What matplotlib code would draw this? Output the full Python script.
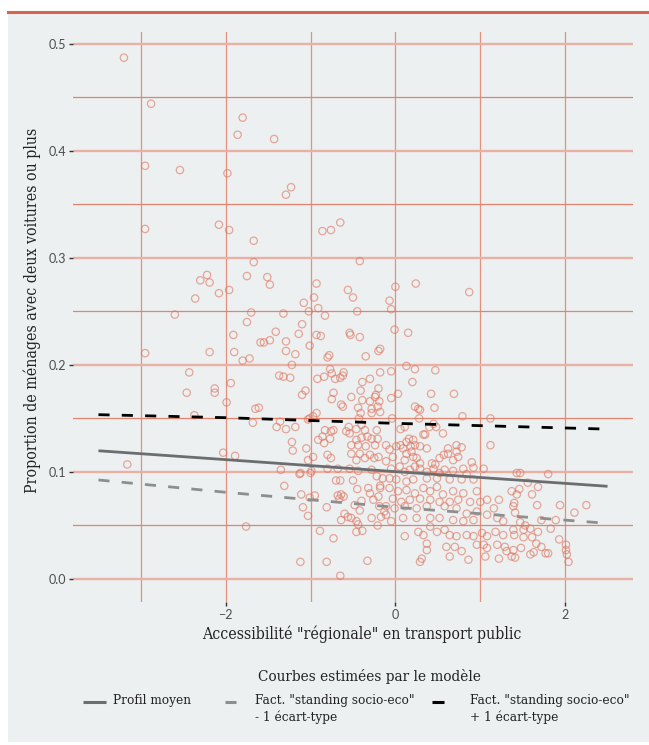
import numpy as np
import matplotlib
matplotlib.use("Agg")
import matplotlib.pyplot as plt
from matplotlib.lines import Line2D
from matplotlib.patches import Rectangle

obs = [
    (-3.20, 0.487), (-2.88, 0.444), (-1.80, 0.431), (-1.86, 0.415), (-1.43, 0.411),
    (-2.95, 0.386), (-2.54, 0.382), (-1.98, 0.379), (-1.23, 0.366), (-1.29, 0.359),
    (-2.95, 0.327), (-2.08, 0.331), (-1.96, 0.326), (-1.67, 0.316), (-0.65, 0.333),
    (-0.86, 0.325), (-0.76, 0.326), (-1.67, 0.296), (-0.42, 0.297), (-2.22, 0.284),
    (-2.30, 0.279), (-2.19, 0.277), (-1.75, 0.283), (-1.51, 0.282), (-1.48, 0.275),
    (-0.93, 0.276), (-1.96, 0.270), (-2.08, 0.267), (-2.36, 0.262), (-0.56, 0.270),
    (-0.50, 0.263), (-0.96, 0.263), (-1.08, 0.258), (0.00, 0.273), (0.24, 0.276),
    (0.87, 0.268), (-0.07, 0.260), (-0.05, 0.252), (-0.91, 0.253), (-1.02, 0.250),
    (-0.83, 0.246), (-0.45, 0.250), (-2.60, 0.247), (-1.70, 0.249), (-1.32, 0.248),
    (-1.75, 0.240), (-1.10, 0.238),
    (-1.91, 0.228), (-2.95, 0.211), (-2.19, 0.212), (-1.90, 0.212), (-1.80, 0.204),
    (-1.72, 0.206), (-1.59, 0.221), (-2.43, 0.193), (-1.94, 0.183), (-2.13, 0.178),
    (-2.13, 0.174), (-2.46, 0.174), (-1.99, 0.165), (-1.65, 0.159), (-1.61, 0.160),
    (-2.37, 0.153), (-1.68, 0.146), (-2.03, 0.118), (-1.89, 0.115), (-3.16, 0.107),
    (-1.76, 0.049),
    (-1.41, 0.231), (-1.14, 0.229), (-0.93, 0.228), (-0.88, 0.227), (-0.53, 0.228),
    (-0.54, 0.230), (-0.42, 0.226), (-1.55, 0.221), (-1.48, 0.223), (-1.29, 0.222),
    (-1.01, 0.218), (-1.29, 0.213), (-1.18, 0.210), (-0.78, 0.209), (-0.80, 0.207),
    (-0.35, 0.208), (-0.20, 0.213), (-0.18, 0.215), (-1.22, 0.200), (-1.37, 0.190),
    (-1.32, 0.189), (-1.24, 0.188), (-0.92, 0.187), (-0.84, 0.189), (-0.77, 0.196),
    (-0.75, 0.192), (-0.61, 0.193), (-0.71, 0.187), (-0.65, 0.188), (-0.62, 0.190),
    (-0.39, 0.184), (-0.30, 0.187), (-0.18, 0.193), (-1.06, 0.176), (-1.10, 0.172),
    (-0.73, 0.174), (-0.75, 0.168), (-0.52, 0.170), (-0.64, 0.163), (-0.62, 0.161),
    (-0.41, 0.176), (-0.20, 0.178), (-0.23, 0.172), (-0.24, 0.170), (-0.39, 0.167),
    (-0.30, 0.166), (-0.44, 0.160), (-0.41, 0.155), (-0.28, 0.159), (-0.21, 0.161),
    (-0.19, 0.166), (-0.18, 0.156), (-0.28, 0.155), (-0.43, 0.150),
    (-0.93, 0.155), (-0.97, 0.152), (-1.36, 0.147), (-1.40, 0.142), (-1.29, 0.140),
    (-1.18, 0.142), (-1.03, 0.149), (-1.01, 0.150), (-0.83, 0.139), (-0.76, 0.138),
    (-0.73, 0.139), (-0.86, 0.133), (-0.84, 0.127), (-0.91, 0.130), (-0.77, 0.131),
    (-1.22, 0.128), (-1.21, 0.120), (-0.55, 0.142), (-0.58, 0.138), (-0.54, 0.136),
    (-0.46, 0.140), (-0.40, 0.144), (-0.36, 0.139), (-0.46, 0.130), (-0.40, 0.132),
    (-0.33, 0.133), (-0.28, 0.131), (-0.22, 0.139), (-0.21, 0.131), (-0.24, 0.125),
    (-0.35, 0.124), (-0.44, 0.125), (-0.52, 0.125), (-0.52, 0.117), (-0.42, 0.117),
    (-0.30, 0.116), (-0.20, 0.114), (-0.46, 0.111), (-0.36, 0.113), (-0.25, 0.113),
    (-0.76, 0.113), (-0.80, 0.116), (-1.05, 0.122), (-0.97, 0.114), (-1.03, 0.111),
    (-0.01, 0.233), (0.15, 0.230), (-0.05, 0.194), (0.13, 0.199), (0.23, 0.196),
    (0.47, 0.195), (0.20, 0.184), (0.03, 0.173), (-0.05, 0.169), (0.42, 0.173),
    (0.69, 0.173), (0.23, 0.161), (0.27, 0.159), (0.29, 0.158), (0.46, 0.160),
    (0.28, 0.150), (-0.04, 0.150), (0.79, 0.152), (1.12, 0.150), (0.06, 0.140),
    (0.11, 0.142), (0.40, 0.142), (0.45, 0.145), (0.48, 0.142), (0.56, 0.136),
    (0.33, 0.135), (0.35, 0.135), (1.12, 0.125), (0.16, 0.131), (0.21, 0.130),
    (0.13, 0.128), (0.06, 0.125), (0.01, 0.124), (0.09, 0.122), (0.18, 0.124),
    (0.23, 0.125), (0.29, 0.124), (0.37, 0.122), (0.19, 0.119), (0.13, 0.117),
    (0.21, 0.114), (-0.03, 0.114), (-0.07, 0.121), (-0.11, 0.125), (0.11, 0.111),
    (0.25, 0.113), (0.29, 0.108), (0.52, 0.113), (0.57, 0.116), (0.62, 0.122),
    (0.62, 0.117), (0.72, 0.125), (0.78, 0.123), (0.72, 0.119), (0.74, 0.114),
    (0.68, 0.111), (0.90, 0.109), (0.43, 0.108), (0.47, 0.107), (-0.11, 0.110),
    (-1.35, 0.102), (-1.13, 0.098), (-1.12, 0.099), (-1.00, 0.099), (-0.99, 0.101),
    (-0.80, 0.103), (-0.68, 0.103), (-0.54, 0.103), (-0.44, 0.101), (-0.70, 0.092),
    (-0.65, 0.092), (-0.50, 0.092), (-1.31, 0.087), (-1.11, 0.079), (-1.01, 0.076),
    (-0.95, 0.078), (-1.09, 0.067), (-1.03, 0.059), (-0.81, 0.067), (-0.68, 0.078),
    (-0.64, 0.079), (-0.61, 0.077), (-0.66, 0.075), (-0.45, 0.084), (-0.40, 0.073),
    (-0.32, 0.085), (-0.30, 0.080), (-0.26, 0.074), (-0.20, 0.077), (-0.18, 0.085),
    (-0.15, 0.094), (-0.22, 0.096), (-0.28, 0.102), (-0.18, 0.087), (-0.48, 0.069),
    (-0.42, 0.064), (-0.60, 0.061), (-0.56, 0.058), (-0.64, 0.055), (-0.52, 0.057),
    (-0.46, 0.054), (-0.44, 0.051), (-0.28, 0.057), (-0.21, 0.050), (-0.17, 0.058),
    (-0.19, 0.068), (-0.13, 0.063), (-0.46, 0.044), (-0.39, 0.045), (-0.89, 0.045),
    (-0.73, 0.038), (-1.12, 0.016), (-0.81, 0.016), (-0.33, 0.017), (-0.65, 0.003),
    (-0.05, 0.103), (0.05, 0.105), (0.11, 0.100), (0.17, 0.102), (0.23, 0.105),
    (0.29, 0.103), (0.37, 0.100), (0.45, 0.103), (0.52, 0.099), (0.58, 0.102),
    (0.68, 0.101), (0.80, 0.103), (0.92, 0.104), (1.04, 0.103), (0.84, 0.098),
    (0.78, 0.093), (0.92, 0.093), (0.64, 0.093), (0.49, 0.094), (0.37, 0.094),
    (0.21, 0.093), (0.13, 0.091), (0.01, 0.093), (-0.07, 0.094),
    (-0.07, 0.085), (0.03, 0.082), (0.13, 0.083), (0.23, 0.080), (0.33, 0.085),
    (0.41, 0.082), (0.49, 0.086), (0.56, 0.079), (0.68, 0.082), (0.80, 0.080),
    (0.96, 0.082), (1.08, 0.074), (1.22, 0.074), (1.16, 0.066), (1.00, 0.072),
    (0.88, 0.072), (0.74, 0.074), (0.64, 0.072), (0.52, 0.072), (0.41, 0.074),
    (0.29, 0.075), (0.17, 0.074), (0.07, 0.072), (-0.03, 0.075), (-0.11, 0.068),
    (-0.01, 0.066), (0.11, 0.068), (0.25, 0.066), (0.37, 0.068), (0.58, 0.068),
    (0.72, 0.066), (0.84, 0.061), (0.96, 0.063), (1.08, 0.060), (1.20, 0.057),
    (1.27, 0.054), (0.09, 0.057), (0.25, 0.057), (0.41, 0.057), (0.52, 0.057),
    (0.68, 0.055), (0.80, 0.054), (0.92, 0.055), (-0.05, 0.054), (-0.11, 0.060),
    (0.11, 0.040), (0.27, 0.044), (0.33, 0.041), (0.41, 0.049), (0.49, 0.044),
    (0.58, 0.046), (0.64, 0.041), (0.72, 0.040), (0.84, 0.041), (0.92, 0.040),
    (1.02, 0.043), (1.08, 0.040), (1.18, 0.044), (1.27, 0.041), (1.04, 0.032),
    (1.08, 0.029), (1.20, 0.032), (1.29, 0.030), (0.96, 0.032), (0.37, 0.033),
    (0.37, 0.027), (0.60, 0.030), (0.70, 0.030), (0.78, 0.026), (0.64, 0.021),
    (0.86, 0.018), (1.06, 0.021), (1.22, 0.019), (1.31, 0.026), (0.29, 0.016),
    (0.31, 0.019),
    (1.43, 0.099), (1.47, 0.099), (1.80, 0.098), (1.56, 0.090), (1.68, 0.086),
    (1.46, 0.084), (1.37, 0.082), (1.43, 0.079), (1.61, 0.079), (1.40, 0.071),
    (1.39, 0.068), (1.41, 0.062), (1.67, 0.069), (1.94, 0.069), (2.25, 0.069),
    (2.11, 0.062), (1.72, 0.055), (1.89, 0.055), (1.47, 0.053), (1.53, 0.050),
    (1.59, 0.047), (1.51, 0.046), (1.68, 0.044), (1.83, 0.047), (1.39, 0.046),
    (1.40, 0.041), (1.51, 0.039), (1.61, 0.039), (1.66, 0.033), (1.72, 0.030),
    (1.93, 0.037), (2.01, 0.032), (2.01, 0.027), (2.02, 0.023), (2.04, 0.016),
    (1.48, 0.029), (1.39, 0.027), (1.41, 0.020), (1.59, 0.023), (1.63, 0.025),
    (1.77, 0.024), (1.80, 0.024), (1.37, 0.021),
]
obs_x = np.array([p[0] for p in obs])
obs_y = np.array([p[1] for p in obs])

# model curves
curve_x = [-3.5, -2.0, 0.0, 2.5]
mean_y = [0.1198, 0.1115, 0.1003, 0.0866]
low_y = [0.0925, 0.0810, 0.0670, 0.0520]
high_y = [0.1535, 0.1507, 0.1454, 0.1400]

legend_title = "Courbes estimées par le modèle"
legend_labels = [
    "Profil moyen",
    'Fact. "standing socio-eco"\n- 1 écart-type',
    'Fact. "standing socio-eco"\n+ 1 écart-type',
]
x_label = 'Accessibilité "régionale" en transport public'
y_label = "Proportion de ménages avec deux voitures ou plus"

BG = "#ecf0f1"
RED = "#d9634f"
W, H = 649, 745
SERIF = dict(family="DejaVu Serif", stretch="condensed", color="#222222")


def fx(px):
    return px / W


def fy(py):
    return 1 - py / H


fig = plt.figure(figsize=(W / 100, H / 100), dpi=100)
fig.patch.set_facecolor("white")
fig.add_artist(Rectangle((fx(8), fy(742)), 1, fy(12) - fy(742),
                         transform=fig.transFigure, facecolor=BG,
                         edgecolor="none", zorder=0))
fig.add_artist(Line2D([fx(8), 1], [fy(12), fy(12)], color=RED, lw=2.2,
                      transform=fig.transFigure))

ax = fig.add_axes([fx(73), fy(602), fx(633) - fx(73), fy(32) - fy(602)])
ax.set_facecolor(BG)
for s in ax.spines.values():
    s.set_visible(False)

ax.set_xlim(-3.8, 2.8)
ax.set_ylim(-0.0215, 0.511)
ax.set_xticks([-2, 0, 2])
ax.set_xticks([-3, -1, 1], minor=True)
ax.set_yticks(np.arange(0, 0.51, 0.1))
ax.set_yticks(np.arange(0.05, 0.5, 0.1), minor=True)
ax.set_yticklabels([f"{v:.1f}" for v in np.arange(0, 0.51, 0.1)])
ax.grid(which="major", axis="y", color="#e9b1a5", lw=1.7)
ax.grid(which="minor", axis="y", color="#e3836e", lw=0.9)
ax.grid(which="both", axis="x", color="#e3907c", lw=0.9)
ax.set_axisbelow(True)
ax.tick_params(which="major", length=3, width=1, color="#333333",
               labelsize=9, labelcolor="#4d4d4d", pad=2)
ax.tick_params(which="minor", length=0)
for lab in ax.get_xticklabels() + ax.get_yticklabels():
    lab.set_family("Lato")

ax.scatter(obs_x, obs_y, s=28, facecolors="none", edgecolors="#e0735b",
           alpha=0.6, linewidths=0.9, zorder=2)

ax.plot(curve_x, mean_y, color="#6b6d6f", lw=2.0, solid_capstyle="butt", zorder=3)
ax.plot(curve_x, low_y, color="#8e8e8e", lw=2.0, dashes=(4.0, 4.4),
        dash_capstyle="butt", zorder=3)
ax.plot(curve_x, high_y, color="black", lw=2.0, dashes=(4.0, 4.4),
        dash_capstyle="butt", zorder=3)

fig.text(fx(362), fy(634), x_label, ha="center", va="center", fontsize=11.3, **SERIF)
fig.text(fx(32), fy(310), y_label, ha="center", va="center", rotation=90,
         fontsize=11.3, **SERIF)

# legend drawn by hand (ggplot-like: key aligned with first line)
fig.text(fx(370), fy(676), legend_title, ha="center", va="center", fontsize=11, **SERIF)
keys = [
    dict(x0=83, x1=106, color="#6b6d6f"),
    dict(x0=225, x1=236, color="#8e8e8e"),
    dict(x0=432, x1=444, color="black"),
]
text_x = [113, 255, 470]
for key, tx, lab in zip(keys, text_x, legend_labels):
    fig.add_artist(Line2D([fx(key["x0"]), fx(key["x1"])], [fy(702), fy(702)],
                          color=key["color"], lw=2.2, transform=fig.transFigure,
                          solid_capstyle="butt"))
    fig.text(fx(tx), fy(694), lab, ha="left", va="top", fontsize=9.7,
             linespacing=1.3, **SERIF)

fig.savefig("out.png", dpi=100, facecolor="white")
